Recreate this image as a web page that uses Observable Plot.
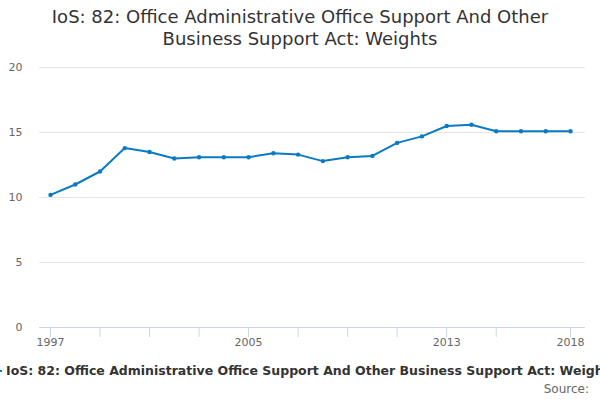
<!DOCTYPE html>
<html>
<head>
<meta charset="utf-8">
<script src="https://cdn.jsdelivr.net/npm/d3@7"></script>
<script src="https://cdn.jsdelivr.net/npm/@observablehq/plot@0.6"></script>
<style>
  html, body { margin: 0; padding: 0; background: #fff; }
  body { width: 600px; height: 400px; overflow: hidden; position: relative; font-family: "DejaVu Sans", sans-serif; }
  #title { position: absolute; left: 0; top: 6px; width: 600px; text-align: center; font-size: 18px; line-height: 22px; color: #333; }
  #chart { position: absolute; left: 0; top: 55px; }
  #legend { position: absolute; left: -8px; top: 363px; white-space: nowrap; font-size: 12.5px; font-weight: bold; color: #333; }
  #legend .sym { display: inline-block; width: 10px; height: 2px; background: #0a7bc2; vertical-align: middle; margin-right: 4px; position: relative; top: -1px; }
  #source { position: absolute; right: 11px; top: 382px; font-size: 12px; color: #666; }
</style>
</head>
<body>
<div id="title">IoS: 82: Office Administrative Office Support And Other<br>Business Support Act: Weights</div>
<div id="chart"></div>
<div id="legend"><span class="sym"></span>IoS: 82: Office Administrative Office Support And Other Business Support Act: Weights</div>
<div id="source">Source:</div>
<script>
const years = [1997,1998,1999,2000,2001,2002,2003,2004,2005,2006,2007,2008,2009,2010,2011,2012,2013,2014,2015,2016,2017,2018];
const values = [10.2,11.0,12.0,13.8,13.5,13.0,13.1,13.1,13.1,13.4,13.3,12.8,13.1,13.2,14.2,14.7,15.5,15.6,15.1,15.1,15.1,15.1];
const xTicks = [1997,1999,2001,2003,2005,2007,2009,2011,2013,2015,2018];
const xLabels = [1997,2005,2013,2018];
const yTicks = [0,5,10,15,20];

const data = years.map((y, i) => ({year: y, value: values[i]}));
const color = "#0a7bc2";

const chart = Plot.plot({
  width: 600,
  height: 300,
  marginTop: 12,
  marginBottom: 28,
  marginLeft: 39,
  marginRight: 15,
  style: {fontFamily: "DejaVu Sans, sans-serif", fontSize: "11px", color: "#666", background: "white"},
  x: {domain: [1996.556, 2018.606], label: null},
  y: {domain: [0, 20], label: null},
  marks: [
    Plot.ruleY(yTicks.filter(d => d > 0), {stroke: "#e6e6e6", strokeWidth: 1}),
    Plot.ruleY([0], {stroke: "#ccd6eb", strokeWidth: 1}),
    Plot.axisY({ticks: yTicks, tickSize: 0, tickPadding: 17, label: null, fill: "#666", fontSize: 11}),
    Plot.axisX({ticks: xTicks, tickSize: 10, tickPadding: 1, stroke: "#ccd6eb", tickFormat: d => xLabels.includes(d) ? String(d) : "", label: null, fill: "#666", fontSize: 11}),
    Plot.line(data, {x: "year", y: "value", stroke: color, strokeWidth: 2}),
    Plot.dot(data, {x: "year", y: "value", r: 2.2, fill: color, stroke: "none"})
  ]
});
document.getElementById("chart").appendChild(chart);
</script>
</body>
</html>
